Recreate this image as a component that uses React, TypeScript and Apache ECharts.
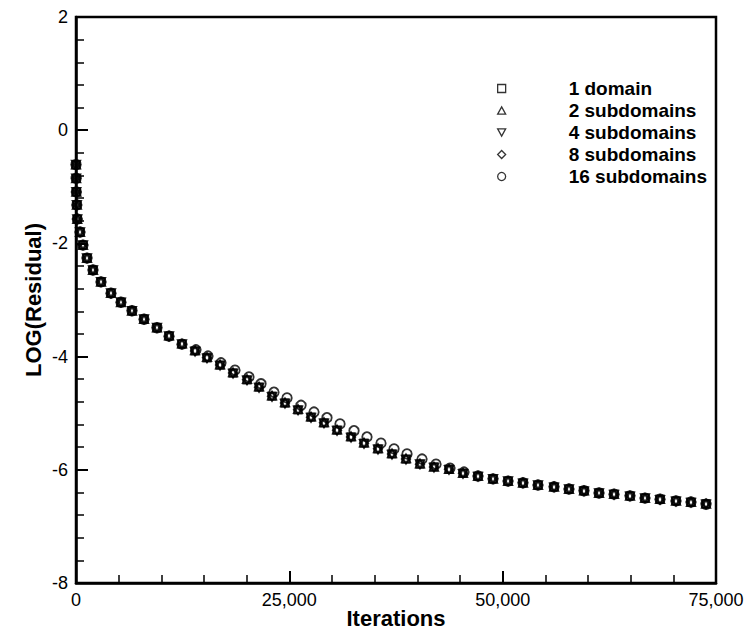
import React, { useEffect, useRef } from "react";
import * as echarts from "echarts";

// Iteration positions of markers (shared by 1, 2, 4, 8 subdomain runs)
const iterations = [
  0, 20, 40, 100, 150, 470, 820, 1290, 1990, 2930, 4100, 5270, 6560, 7970, 9490,
  10900, 12420, 13950, 15350, 16880, 18400, 20040, 21450, 22970, 24490, 26020,
  27540, 29060, 30590, 32230, 33750, 35390, 37030, 38670, 40310, 41950, 43710,
  45350, 47110, 48870, 50630, 52380, 54140, 56020, 57770, 59530, 61290, 63050,
  64920, 66680, 68440, 70310, 72070, 73830,
];

const res1 = [
  -0.61, -0.85, -1.09, -1.32, -1.57, -1.8, -2.03, -2.26, -2.47, -2.68, -2.88,
  -3.04, -3.19, -3.34, -3.49, -3.64, -3.78, -3.9, -4.02, -4.15, -4.29, -4.41,
  -4.54, -4.7, -4.82, -4.94, -5.07, -5.17, -5.3, -5.42, -5.53, -5.63, -5.72,
  -5.81, -5.9, -5.95, -5.99, -6.06, -6.11, -6.16, -6.2, -6.23, -6.27, -6.3,
  -6.34, -6.37, -6.41, -6.43, -6.46, -6.5, -6.52, -6.55, -6.57, -6.6,
];
const res2 = [
  -0.61, -0.85, -1.09, -1.32, -1.57, -1.8, -2.03, -2.26, -2.47, -2.68, -2.88,
  -3.04, -3.19, -3.34, -3.49, -3.63, -3.77, -3.89, -4.01, -4.14, -4.28, -4.4,
  -4.53, -4.69, -4.81, -4.93, -5.06, -5.16, -5.29, -5.41, -5.52, -5.62, -5.71,
  -5.8, -5.89, -5.95, -5.99, -6.06, -6.11, -6.16, -6.2, -6.23, -6.27, -6.3,
  -6.34, -6.37, -6.41, -6.43, -6.46, -6.5, -6.52, -6.55, -6.57, -6.6,
];
const res4 = [
  -0.61, -0.85, -1.09, -1.32, -1.57, -1.8, -2.03, -2.26, -2.47, -2.68, -2.88,
  -3.04, -3.19, -3.34, -3.49, -3.64, -3.78, -3.91, -4.03, -4.16, -4.3, -4.42,
  -4.55, -4.71, -4.83, -4.95, -5.08, -5.18, -5.31, -5.43, -5.54, -5.64, -5.73,
  -5.82, -5.9, -5.96, -6.0, -6.07, -6.12, -6.16, -6.2, -6.24, -6.27, -6.31,
  -6.34, -6.38, -6.41, -6.44, -6.47, -6.5, -6.53, -6.56, -6.58, -6.61,
];
const res8 = [
  -0.61, -0.85, -1.09, -1.32, -1.57, -1.8, -2.03, -2.26, -2.47, -2.68, -2.88,
  -3.04, -3.19, -3.34, -3.49, -3.64, -3.78, -3.9, -4.02, -4.15, -4.29, -4.41,
  -4.54, -4.7, -4.82, -4.94, -5.07, -5.17, -5.3, -5.42, -5.53, -5.63, -5.72,
  -5.81, -5.9, -5.95, -5.99, -6.06, -6.11, -6.16, -6.2, -6.23, -6.27, -6.3,
  -6.34, -6.37, -6.41, -6.43, -6.46, -6.5, -6.52, -6.55, -6.57, -6.6,
];

// 16 subdomains run (markers slightly shifted in the middle range)
const iterations16 = [
  0, 20, 40, 100, 150, 470, 820, 1290, 1990, 2930, 4100, 5270, 6560, 7970, 9490,
  10900, 12420, 14060, 15470, 16990, 18630, 20270, 21680, 23200, 24730, 26370,
  27890, 29410, 30940, 32580, 34100, 35740, 37270, 38790, 40550, 42190, 43830,
  45470, 47110, 48870, 50630, 52380, 54140, 56020, 57770, 59530, 61290, 63050,
  64920, 66680, 68440, 70310, 72070, 73830,
];
const res16 = [
  -0.61, -0.85, -1.09, -1.32, -1.57, -1.8, -2.03, -2.26, -2.47, -2.68, -2.88,
  -3.04, -3.19, -3.34, -3.49, -3.64, -3.78, -3.88, -3.99, -4.11, -4.24, -4.36,
  -4.48, -4.63, -4.73, -4.86, -4.98, -5.08, -5.19, -5.31, -5.42, -5.53, -5.63,
  -5.72, -5.81, -5.9, -5.97, -6.04, -6.11, -6.16, -6.2, -6.23, -6.27, -6.3,
  -6.34, -6.37, -6.41, -6.43, -6.46, -6.5, -6.52, -6.55, -6.57, -6.61,
];

const seriesNames = ["1 domain", "2 subdomains", "4 subdomains", "8 subdomains", "16 subdomains"];
const xTicks = [0, 25000, 50000, 75000];
const yTicks = [-8, -6, -4, -2, 0, 2];

const FONT = "'Liberation Sans', Arial, Helvetica, sans-serif";

export default function App() {
  const ref = useRef<HTMLDivElement>(null);

  useEffect(() => {
    if (!ref.current) return;
    const chart = echarts.init(ref.current, undefined, { renderer: "svg" });

    const pair = (xs: number[], ys: number[]) => xs.map((x, i) => [x, ys[i]]);
    const symbols = [
      { symbol: "rect", size: 7.5 },
      { symbol: "path://M5,0L10,9L0,9Z", size: [8.5, 8] },
      { symbol: "path://M0,0L10,0L5,9Z", size: [8.5, 8] },
      { symbol: "path://M5,0L10,5L5,10L0,5Z", size: 8.5 },
      { symbol: "circle", size: 9.5 },
    ];
    const datasets = [
      pair(iterations, res1),
      pair(iterations, res2),
      pair(iterations, res4),
      pair(iterations, res8),
      pair(iterations16, res16),
    ];

    const series = seriesNames.map((name, i) => ({
      name,
      type: "scatter",
      data: datasets[i],
      symbol: symbols[i].symbol,
      symbolSize: symbols[i].size,
      itemStyle: { color: "rgba(255,255,255,0)", borderColor: "#000", borderWidth: 1.8 },
      emphasis: { disabled: true },
      z: 3,
    }));

    chart.setOption({
      animation: false,
      backgroundColor: "#fff",
      grid: {
        left: 76,
        right: 29,
        top: 17,
        bottom: 47,
        containLabel: false,
        outerBoundsMode: "none",
        show: true,
        borderColor: "#000",
        borderWidth: 2.5,
        backgroundColor: "transparent",
      },
      legend: {
        orient: "vertical",
        left: 492,
        top: 74,
        itemWidth: 8,
        itemHeight: 8,
        itemGap: 3,
        selectedMode: false,
        itemStyle: { borderWidth: 1.3 },
        textStyle: {
          fontFamily: FONT,
          fontWeight: "bold",
          fontSize: 19,
          color: "#000",
          padding: [0, 0, 0, 58],
        },
        data: seriesNames,
      },
      xAxis: {
        type: "value",
        min: xTicks[0],
        max: xTicks[xTicks.length - 1],
        interval: 25000,
        name: "Iterations",
        nameLocation: "middle",
        nameGap: 24,
        nameMoveOverlap: false,
        nameTextStyle: { fontFamily: FONT, fontWeight: "bold", fontSize: 22, color: "#000" },
        axisLine: { show: true, onZero: false, lineStyle: { color: "#000", width: 2.5 } },
        axisTick: { show: true, inside: true, length: 12, lineStyle: { color: "#000", width: 2 } },
        minorTick: { show: true, splitNumber: 5, length: 8, lineStyle: { color: "#000", width: 1.5 } },
        splitLine: { show: false },
        axisLabel: {
          fontFamily: FONT,
          fontSize: 18,
          color: "#000",
          margin: 8,
          formatter: (v: number) => v.toLocaleString("en-US"),
        },
      },
      yAxis: {
        type: "value",
        min: yTicks[0],
        max: yTicks[yTicks.length - 1],
        interval: 2,
        name: "LOG(Residual)",
        nameLocation: "middle",
        nameGap: 32,
        nameMoveOverlap: false,
        nameTextStyle: { fontFamily: FONT, fontWeight: "bold", fontSize: 22, color: "#000" },
        axisLine: { show: true, onZero: false, lineStyle: { color: "#000", width: 2.5 } },
        axisTick: { show: true, inside: true, length: 12, lineStyle: { color: "#000", width: 2 } },
        minorTick: { show: true, splitNumber: 5, length: 8, lineStyle: { color: "#000", width: 1.5 } },
        splitLine: { show: false },
        axisLabel: {
          fontFamily: FONT,
          fontSize: 18,
          color: "#000",
          margin: 8,
        },
      },
      series,
    });

    return () => chart.dispose();
  }, []);

  return (
    <div
      ref={ref}
      style={{ position: "fixed", left: 0, top: 0, width: 745, height: 630, background: "#fff" }}
    />
  );
}
